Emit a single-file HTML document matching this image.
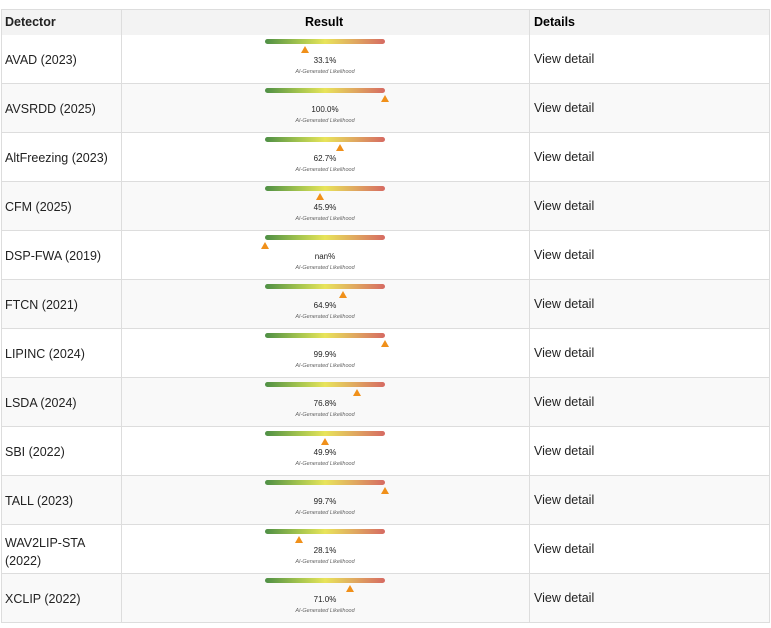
<!DOCTYPE html><html><head><style>
body{margin:0;width:771px;height:628px;background:#fff;font-family:"Liberation Sans",sans-serif;position:relative;overflow:hidden}
.r{position:absolute;left:1px;width:767px;height:48px;border-bottom:1px solid #ddd;border-left:1px solid #ddd;border-right:1px solid #ddd;box-sizing:content-box}
.c1,.c2{position:absolute;top:0;bottom:0;border-left:1px solid #ddd}
.c1{left:119px}.c2{left:527px}
.n{position:absolute;left:3px;font-size:12.5px;color:#222}
.v{position:absolute;left:532px;font-size:12.5px;color:#222}
.bar{position:absolute;left:263px;width:120px;height:5px;border-radius:3px;background:linear-gradient(90deg,#4e8f45,#a9c74f 30%,#e8e45a 50%,#e0a860 75%,#d66a62)}
.tri{position:absolute;width:0;height:0;border-left:4px solid transparent;border-right:4px solid transparent;border-bottom:7px solid #f0901a}
.p{position:absolute;left:263px;width:120px;text-align:center;font-size:8px;color:#222}
.l{position:absolute;left:263px;width:120px;text-align:center;font-size:5.5px;font-style:italic;color:#666}
</style></head><body>
<div class="r" style="top:9px;height:25px;background:#f3f3f3;border-top:1px solid #ddd"><div class="c1"></div><div class="c2"></div>
<div class="n" style="top:5px;font-weight:bold;font-size:12.5px">Detector</div>
<div style="position:absolute;left:303px;top:5px;font-weight:bold;font-size:12.5px">Result</div>
<div style="position:absolute;left:532px;top:5px;font-weight:bold;font-size:12.5px">Details</div></div>
<script>
var d=[["AVAD (2023)",33.1],["AVSRDD (2025)",100.0],["AltFreezing (2023)",62.7],["CFM (2025)",45.9],["DSP-FWA (2019)",null],["FTCN (2021)",64.9],["LIPINC (2024)",99.9],["LSDA (2024)",76.8],["SBI (2022)",49.9],["TALL (2023)",99.7],["WAV2LIP-STA<br>(2022)",28.1],["XCLIP (2022)",71.0]];
var h="";d.forEach(function(x,i){var t=35+49*i;var p=x[1]===null?0:x[1];var tx=263+120*p/100-4;
var two=x[0].indexOf("<br>")>0;
h+='<div class="r" style="top:'+t+'px;background:'+(i%2?'#f9f9f9':'#fff')+'"><div class="c1"></div><div class="c2"></div>'+
'<div class="n" style="top:'+(two?9:16)+'px;line-height:18px">'+x[0]+'</div>'+
'<div class="bar" style="top:4px"></div><div class="tri" style="left:'+tx+'px;top:11px"></div>'+
'<div class="p" style="top:21px">'+(x[1]===null?'nan':x[1].toFixed(1))+'%</div>'+
'<div class="l" style="top:34px">AI-Generated Likelihood</div>'+
'<div class="v" style="top:17px">View detail</div></div>';});
document.write(h);
</script>
</body></html>
